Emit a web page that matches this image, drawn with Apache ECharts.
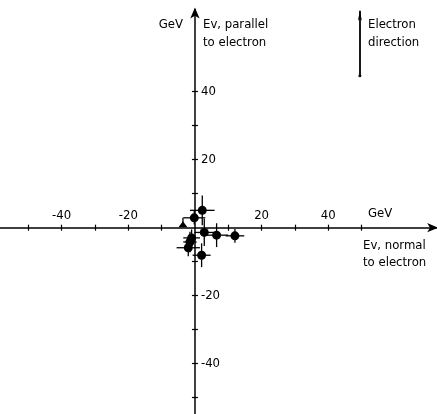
<!DOCTYPE html>
<html><head><meta charset="utf-8">
<script src="https://cdn.jsdelivr.net/npm/echarts@6/dist/echarts.min.js"></script>
<style>html,body{margin:0;padding:0;background:#fff}#c{width:437px;height:414px}</style>
</head><body><div id="c"></div>
<script>
// Tick marks and labels (GeV)
const xTickValues = [-50, -40, -30, -20, -10, 10, 20, 30, 40, 50];
const xTickLabels = [-40, -20, 20, 40];
const yTickValues = [-50, -40, -30, -20, -10, 10, 20, 30, 40];
const yTickLabels = [-40, -20, 20, 40];

// Events: E(nu) normal (x) and parallel (y) to electron, with errors
const pointX = [2.2, -0.2, 2.8, 6.5, 12.0, -1.0, -1.5, -2.0, 2.0];
const pointY = [5.1, 2.9, -1.4, -2.2, -2.4, -3.0, -4.2, -5.9, -8.1];
const errX   = [3.7, 3.3, 3.0, 3.5, 2.8, 2.5, 2.0, 3.5, 2.7];
const errY   = [4.4, 2.0, 4.0, 3.5, 2.0, 2.5, 3.0, 2.5, 3.5];

// Triangle event (with bracket up)
const triX = [-3.6];
const triY = [1.0];
const triErrUp = [1.9];

// Electron direction arrow (data coordinates)
const electronArrow = [[49.5, 44.7], [49.5, 63.8]];

const FONT = '"DejaVu Sans Condensed","Liberation Sans Narrow","DejaVu Sans",sans-serif';
const INK = '#000';

const barData = pointX.map((x, i) => [x, pointY[i], errX[i], errX[i], errY[i], errY[i]]);
triX.forEach((x, i) => barData.push([x, triY[i], 0, 0, 0, triErrUp[i]]));
const dots = pointX.map((x, i) => [x, pointY[i]]);
const tris = triX.map((x, i) => [x, triY[i]]);

const W = 437, H = 414;
const X_MIN = -58.5, X_MAX = 72.4, Y_MIN = -54.8, Y_MAX = 64.2;
const G = {left: 0, right: 0.8, top: 9.4, bottom: 0};
const zeroX = G.left + (0 - X_MIN) / (X_MAX - X_MIN) * (W - G.left - G.right);
const zeroY = G.top + (Y_MAX - 0) / (Y_MAX - Y_MIN) * (H - G.top - G.bottom);

const chart = echarts.init(document.getElementById('c'), null, {renderer: 'canvas'});

const hidden = (gi, min, max) => ({type: 'value', gridIndex: gi, min: min, max: max, show: false,
  axisLine: {onZero: false}, splitLine: {show: false}});

function visX(inside, withLabels) {
  return {
    type: 'value', gridIndex: 1, min: X_MIN, max: X_MAX, position: 'bottom',
    axisLine: {show: withLabels, onZero: false, symbol: ['none', 'arrow'], symbolSize: [7, 11], symbolOffset: [0, 2],
      lineStyle: {color: INK, width: 1.5}},
    axisTick: {show: true, inside: inside, length: 3, customValues: xTickValues, lineStyle: {color: INK, width: 1.2}},
    axisLabel: {show: withLabels, inside: true, margin: 6, customValues: xTickLabels, color: INK,
      fontFamily: FONT, fontSize: 13},
    splitLine: {show: false}
  };
}
function visY(inside, withLabels) {
  return {
    type: 'value', gridIndex: 2, min: Y_MIN, max: Y_MAX, position: 'left',
    axisLine: {show: withLabels, onZero: false, symbol: ['none', 'arrow'], symbolSize: [7, 11], symbolOffset: [0, 2],
      lineStyle: {color: INK, width: 1.5}},
    axisTick: {show: true, inside: inside, length: 3, customValues: yTickValues, lineStyle: {color: INK, width: 1.2}},
    axisLabel: {show: withLabels, inside: true, margin: 6, customValues: yTickLabels, color: INK,
      fontFamily: FONT, fontSize: 13},
    splitLine: {show: false}
  };
}

const T = (x, y, text, align) => ({type: 'text', x: x, y: y,
  style: {text: text, fill: INK, font: '13px ' + FONT, textAlign: align || 'left', textVerticalAlign: 'middle'}});

chart.setOption({
  animation: false,
  backgroundColor: '#fff',
  grid: [
    {left: G.left, right: G.right, top: G.top, bottom: G.bottom},
    {left: G.left, right: G.right, top: G.top, bottom: H - zeroY},
    {left: zeroX, right: G.right, top: G.top, bottom: G.bottom}
  ],
  xAxis: [hidden(0, X_MIN, X_MAX), visX(false, true), visX(true, false), hidden(2, 0, 1)],
  yAxis: [hidden(0, Y_MIN, Y_MAX), hidden(1, 0, 1), visY(false, true), visY(true, false)],
  graphic: [
    T(183, 25, 'GeV', 'right'),
    T(203, 25, 'Ev, parallel'),
    T(203, 43, 'to electron'),
    T(368, 25, 'Electron'),
    T(368, 43, 'direction'),
    T(368, 214, 'GeV'),
    T(363, 246, 'Ev, normal'),
    T(363, 263, 'to electron')
  ],
  series: [
    {
      type: 'custom', xAxisIndex: 0, yAxisIndex: 0,
      data: barData,
      z: 3,
      renderItem: function (params, api) {
        const x = api.value(0), y = api.value(1);
        const l = api.coord([x - api.value(2), y]);
        const r = api.coord([x + api.value(3), y]);
        const b = api.coord([x, y - api.value(4)]);
        const t = api.coord([x, y + api.value(5)]);
        const st = {stroke: INK, lineWidth: 1.3};
        return {type: 'group', children: [
          {type: 'line', shape: {x1: l[0], y1: l[1], x2: r[0], y2: r[1]}, style: st},
          {type: 'line', shape: {x1: b[0], y1: b[1], x2: t[0], y2: t[1]}, style: st}
        ]};
      }
    },
    {
      type: 'scatter', xAxisIndex: 0, yAxisIndex: 0, data: dots, symbol: 'circle', symbolSize: 9, z: 4,
      itemStyle: {color: INK, opacity: 1},
      markLine: {
        silent: true, symbol: ['circle', 'arrow'], symbolSize: [3, 10],
        label: {show: false},
        lineStyle: {color: INK, width: 1.8, type: 'solid', opacity: 1},
        data: [[{coord: electronArrow[0]}, {coord: electronArrow[1]}]]
      }
    },
    {
      type: 'scatter', xAxisIndex: 0, yAxisIndex: 0, data: tris, symbol: 'triangle', symbolSize: [9, 6], z: 4,
      itemStyle: {color: INK, opacity: 1}
    }
  ]
});
</script>
</body></html>
